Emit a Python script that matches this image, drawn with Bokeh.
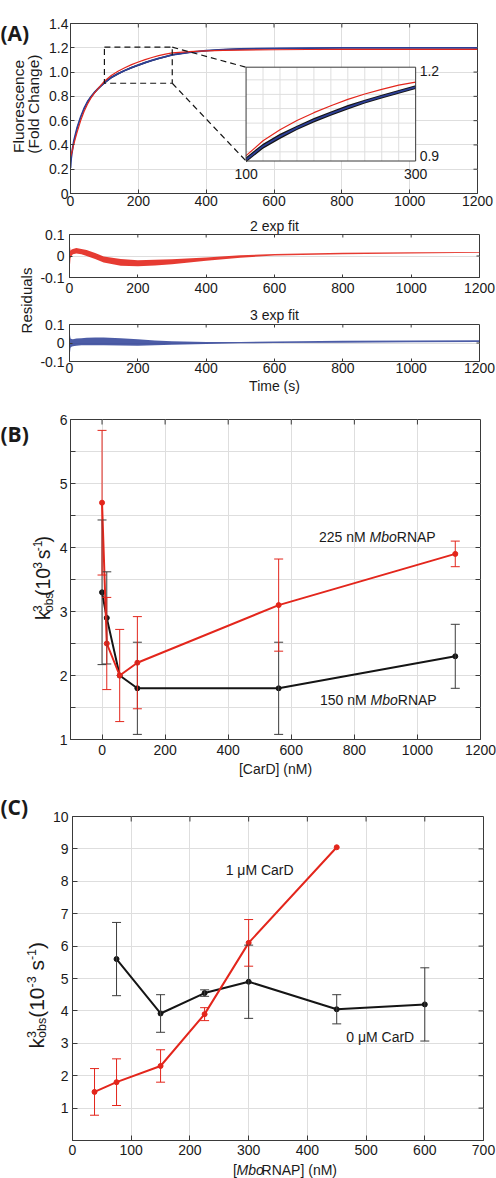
from math import pi
from bokeh.plotting import figure
from bokeh.models import (Range1d, FixedTicker, Label, ColumnDataSource, Title,
                          Whisker, TeeHead, CustomJSTickFormatter)
from bokeh.layouts import column, row
from bokeh.embed import file_html
from bokeh.resources import INLINE

# ---------------------------------------------------------------- DATA
# (A) fluorescence time course (fold change)
time_s = [0, 2, 5, 10, 15, 20, 30, 40, 50, 60, 70, 80, 90, 100, 120, 140, 160, 180, 200,
          220, 240, 260, 280, 300, 350, 400, 450, 500, 600, 700, 800, 1000, 1200]
fit_3exp = [0.21, 0.29, 0.35, 0.435, 0.49, 0.545, 0.63, 0.70, 0.755, 0.795, 0.83, 0.86, 0.887,
            0.912, 0.955, 0.986, 1.013, 1.037, 1.058, 1.078, 1.096, 1.112, 1.127, 1.142, 1.163,
            1.176, 1.185, 1.19, 1.195, 1.198, 1.2, 1.2, 1.2]
fit_2exp = [0.30, 0.32, 0.35, 0.41, 0.46, 0.51, 0.60, 0.675, 0.735, 0.785, 0.825, 0.86, 0.893,
            0.925, 0.972, 1.007, 1.036, 1.061, 1.083, 1.103, 1.12, 1.135, 1.148, 1.158, 1.168,
            1.174, 1.178, 1.181, 1.184, 1.186, 1.187, 1.187, 1.187]
data_spread = [0.02, 0.015, 0.012, 0.01, 0.01, 0.01, 0.009, 0.009, 0.009, 0.009, 0.008, 0.008,
               0.008, 0.008, 0.008, 0.008, 0.007, 0.007, 0.007, 0.007, 0.006, 0.006, 0.006,
               0.006, 0.005, 0.004, 0.004, 0.004, 0.003, 0.003, 0.003, 0.003, 0.003]
# residual envelopes (low / high edge of the noisy trace)
res_time = [0, 1, 3, 6, 10, 20, 35, 50, 75, 100, 150, 200, 250, 300, 400, 500, 600, 800, 1000, 1200]
res2_low = [-0.07, -0.05, -0.01, 0.0, 0.008, 0.012, 0.008, 0.0, -0.014, -0.03, -0.045, -0.048,
            -0.044, -0.038, -0.022, -0.008, 0.002, 0.008, 0.012, 0.015]
res2_high = [0.06, 0.05, 0.025, 0.03, 0.032, 0.037, 0.033, 0.028, 0.014, -0.002, -0.014, -0.02,
             -0.018, -0.015, -0.007, 0.004, 0.009, 0.015, 0.018, 0.019]
res3_low = [-0.1, -0.06, -0.025, -0.02, -0.018, -0.015, -0.012, -0.012, -0.012, -0.012, -0.014,
            -0.015, -0.012, -0.009, -0.005, -0.002, 0.0, 0.002, 0.004, 0.006]
res3_high = [0.08, 0.05, 0.025, 0.022, 0.02, 0.024, 0.026, 0.028, 0.03, 0.03, 0.026, 0.02, 0.014,
             0.01, 0.006, 0.006, 0.008, 0.012, 0.014, 0.015]
# inset window (zoom of the main plot)
inset_t = [100, 300]
inset_f = [0.908, 1.205]
inset_xgrid = [120, 140, 160, 180, 200, 220, 240, 260, 280]
inset_ygrid = [0.937, 0.983, 1.028, 1.074, 1.119, 1.165]

# (B) k3obs vs [CarD]
card_nM = [0, 15, 56, 112, 560, 1120]
k_150nM = [3.3, 2.9, 2.0, 1.8, 1.8, 2.3]
k_150nM_err = [1.13, 0.72, 0.0, 0.72, 0.72, 0.5]
k_225nM = [4.7, 2.5, 2.0, 2.2, 3.1, 3.9]
k_225nM_err = [1.13, 0.72, 0.72, 0.72, 0.72, 0.2]

# (C) k3obs vs [MboRNAP]
rnap_1uM = [37.5, 75, 150, 225, 300, 450]
k_1uM = [1.5, 1.8, 2.3, 3.9, 6.1, 9.05]
k_1uM_err = [0.72, 0.72, 0.5, 0.2, 0.72, 0.0]
rnap_0uM = [75, 150, 225, 300, 450, 600]
k_0uM = [5.6, 3.92, 4.55, 4.9, 4.05, 4.2]
k_0uM_err = [1.13, 0.58, 0.1, 1.13, 0.45, 1.13]

# tick values
time_ticks = [0, 200, 400, 600, 800, 1000, 1200]
fl_ticks = [0, 0.2, 0.4, 0.6, 0.8, 1.0, 1.2, 1.4]
res_ticks = [-0.1, 0, 0.1]
card_ticks = [0, 200, 400, 600, 800, 1000, 1200]
kB_ticks = [1, 2, 3, 4, 5, 6]
kB_minor = [1.5, 2.5, 3.5, 4.5, 5.5]
rnap_ticks = [0, 100, 200, 300, 400, 500, 600, 700]
kC_ticks = [1, 2, 3, 4, 5, 6, 7, 8, 9, 10]

# ---------------------------------------------------------------- STYLE
FONT = "Liberation Sans"
TXT = "#1a1a1a"
AX = "#3a3a3a"
GRID = "#dedede"
RED = "#e3261c"
BLUE = "#2d3f96"
BLK = "#151515"
EBLK = "#3c3c3c"

CW = {'k': 0.5, 'o': 0.556, 'b': 0.556, 's': 0.5, '(': 0.333, ')': 0.333, '1': 0.556,
      '0': 0.556, '3': 0.556, '-': 0.333, ' ': 0.278, '2': 0.556, '5': 0.556, 'n': 0.556,
      'M': 0.833, 'R': 0.722, 'N': 0.722, 'A': 0.667, 'P': 0.667, '[': 0.278, ']': 0.278}


def tw(s, size):
    return sum(CW.get(c, 0.556) for c in s) * size


class Panel:
    """A figure whose frame sits at given page pixels; helper converts page px to data."""

    def __init__(self, left, top, width, height, frame, xr, yr, axes=True):
        self.frame = frame
        self.xr, self.yr = xr, yr
        fl, ft, fr, fb = frame
        kw = {}
        if not axes:
            kw = dict(x_axis_type=None, y_axis_type=None)
        self.p = figure(width=width, height=height, x_range=Range1d(*xr), y_range=Range1d(*yr),
                        output_backend="svg", toolbar_location=None, title=None,
                        min_border_left=fl - left, min_border_right=left + width - fr,
                        min_border_top=ft - top, min_border_bottom=top + height - fb, **kw)
        self.p.background_fill_color = "white"
        self.p.border_fill_color = "white"
        self.p.outline_line_color = AX if axes else None

    def dx(self, X):
        fl, ft, fr, fb = self.frame
        return self.xr[0] + (X - fl) / (fr - fl) * (self.xr[1] - self.xr[0])

    def dy(self, Y):
        fl, ft, fr, fb = self.frame
        return self.yr[1] - (Y - ft) / (fb - ft) * (self.yr[1] - self.yr[0])

    def label(self, X, Y, text, size=14, align="center", baseline="middle", angle=0.0,
              style="normal", font=FONT, color=TXT):
        self.p.add_layout(Label(x=self.dx(X), y=self.dy(Y), text=text,
                                text_font_size=f"{size}px", text_align=align,
                                text_baseline=baseline, angle=angle, text_font_style=style,
                                text_font=font, text_color=color))


def strip(left, top, width, height):
    return Panel(left, top, width, height, (left, top, left + width, top + height),
                 (0, width), (0, height), axes=False)


def setup_axes(P, xticks, yticks, tick_len, xfmt=None, yfmt=None, yminor=None,
               xstand=3, ystand=3, xgrid=True, ygrid=True, ygrid_ticks=None):
    p = P.p
    xt = FixedTicker(ticks=xticks)
    yt = FixedTicker(ticks=yticks, minor_ticks=yminor or [])
    p.xaxis.ticker = xt
    p.yaxis.ticker = yt
    if xfmt is not None:
        p.xaxis.formatter = xfmt
    if yfmt is not None:
        p.yaxis.formatter = yfmt
    p.xaxis.major_label_standoff = xstand
    p.yaxis.major_label_standoff = ystand
    for ax in p.axis:
        ax.major_tick_in = tick_len
        ax.major_tick_out = 0
        ax.minor_tick_out = 0
        ax.minor_tick_in = tick_len if (yminor and ax in p.yaxis) else 0
        ax.axis_line_color = AX
        ax.major_tick_line_color = AX
        ax.minor_tick_line_color = AX
        ax.major_label_text_font = FONT
        ax.major_label_text_color = TXT
        ax.major_label_text_font_size = "14px"
        ax.axis_label_text_font = FONT
        ax.axis_label_text_font_size = "14px"
        ax.axis_label_text_font_style = "normal"
        ax.axis_label_text_color = TXT
    p.xgrid.ticker = xt
    p.ygrid.ticker = FixedTicker(ticks=ygrid_ticks) if ygrid_ticks is not None else yt
    p.xgrid.grid_line_color = GRID if xgrid else None
    p.ygrid.grid_line_color = GRID if ygrid else None
    if yminor:
        p.ygrid.minor_grid_line_color = GRID
    # inward ticks on the top and right edges of the box
    fl, ft, fr, fb = P.frame
    x0, x1 = P.xr
    y0, y1 = P.yr
    Ly = tick_len * (y1 - y0) / (fb - ft)
    Lx = tick_len * (x1 - x0) / (fr - fl)
    tx = [x for x in xticks if x0 < x < x1]
    ty = [y for y in list(yticks) + list(yminor or []) if y0 < y < y1]
    p.segment(x0=tx, y0=[y1] * len(tx), x1=tx, y1=[y1 - Ly] * len(tx), line_color=AX, line_width=1)
    p.segment(x0=[x1] * len(ty), y0=ty, x1=[x1 - Lx] * len(ty), y1=ty, line_color=AX, line_width=1)


def errorbars(P, xs, ys, errs, color, head=9, width=1.0):
    xx = [x for x, e in zip(xs, errs) if e > 0]
    lo = [y - e for y, e in zip(ys, errs) if e > 0]
    hi = [y + e for y, e in zip(ys, errs) if e > 0]
    src = ColumnDataSource(dict(x=xx, lo=lo, hi=hi))
    w = Whisker(source=src, base="x", lower="lo", upper="hi", line_color=color, line_width=width,
                upper_head=TeeHead(size=head, line_color=color, line_width=width),
                lower_head=TeeHead(size=head, line_color=color, line_width=width), level="glyph")
    P.p.add_layout(w)


def k_label(P, x0, y0, M, S, sub_k=0.2):
    """Rotated k^3_obs(10^-3 s^-1); x0 = baseline column, y0 = bottom start (page px)."""
    kw = dict(align="left", baseline="middle", angle=pi / 2)
    mid = 0.32
    sup = 0.37 * M
    sub = sub_k * M
    y = y0
    P.label(x0 - mid * M, y, "k", M, **kw)
    y -= tw("k", M)
    P.label(x0 - sup - mid * S, y, "3", S, **kw)
    P.label(x0 + sub - mid * S, y, "obs", S, **kw)
    y -= tw("obs", S)
    P.label(x0 - mid * M, y, "(10", M, **kw)
    y -= tw("(10", M)
    P.label(x0 - sup - mid * S, y, "-3", S, **kw)
    y -= tw("-3", S) + tw(" ", M)
    P.label(x0 - mid * M, y, "s", M, **kw)
    y -= tw("s", M)
    P.label(x0 - sup - mid * S, y, "-1", S, **kw)
    y -= tw("-1", S)
    P.label(x0 - mid * M, y, ")", M, **kw)


def mbo_label(P, X, Y, before, after, size=14):
    x = X
    if before:
        P.label(x, Y, before, size, align="left")
        x += tw(before, size)
    P.label(x, Y, "Mbo", size, align="left", style="italic")
    x += (0.833 + 0.556 + 0.556) * size
    P.label(x, Y, after, size, align="left")


def panel_title(P, text, standoff):
    P.p.title = Title(text=text, align="center", text_font=FONT, text_font_size="14px",
                      text_font_style="normal", text_color=TXT, standoff=standoff)


def dec_fmt():
    return CustomJSTickFormatter(code="return tick == 0 ? '0' : tick.toFixed(1);")


# ---------------------------------------------------------------- (A) main
AL = strip(0, 0, 46, 212)
AL.label(0, 12, "(A)", 21, align="left", style="bold", font="Open Sans")
AL.label(18, 103.5, "Fluorescence", 15.5, angle=pi / 2)
AL.label(32.5, 100.5, "(Fold Change)", 15.5, angle=pi / 2)

A = Panel(46, 0, 450, 212, (69, 23, 477, 193), (0, 1200), (0, 1.4))
setup_axes(A, time_ticks, fl_ticks, 4, yfmt=dec_fmt(), xstand=2, ystand=2)
pa = A.p
lo_band = [f - s for f, s in zip(fit_3exp, data_spread)]
hi_band = [f + s for f, s in zip(fit_3exp, data_spread)]
pa.varea(x=time_s, y1=lo_band, y2=hi_band, fill_color=BLK)
pa.line(time_s, fit_3exp, line_color=BLUE, line_width=1.8)
pa.line(time_s, fit_2exp, line_color=RED, line_width=1.2)

# inset placement on the page (pixels) -> main data coords
ix0, ix1 = A.dx(245), A.dx(415)
iy0, iy1 = A.dy(160.5), A.dy(66.7)
sx = (inset_t[1] - inset_t[0]) / (ix1 - ix0)
sy = (inset_f[1] - inset_f[0]) / (iy1 - iy0)
pa.extra_x_ranges = {"inset": Range1d(inset_t[0] - ix0 * sx, inset_t[1] + (1200 - ix1) * sx)}
pa.extra_y_ranges = {"inset": Range1d(inset_f[0] - iy0 * sy, inset_f[1] + (1.4 - iy1) * sy)}
INS = dict(x_range_name="inset", y_range_name="inset")

pa.quad(left=inset_t[0], right=inset_t[1], bottom=inset_f[0], top=inset_f[1],
        fill_color=None, line_color=BLK, line_width=1.2, line_dash="6 4")
pa.segment(x0=[inset_t[1], inset_t[1]], y0=[inset_f[1], inset_f[0]],
           x1=[ix0, ix0], y1=[iy1, iy0], line_color=BLK, line_width=1.2, line_dash="6 4")

pa.quad(left=inset_t[0], right=inset_t[1], bottom=inset_f[0], top=inset_f[1],
        fill_color="white", line_color=None, **INS)
pa.segment(x0=inset_xgrid, y0=[inset_f[0]] * len(inset_xgrid), x1=inset_xgrid,
           y1=[inset_f[1]] * len(inset_xgrid), line_color=GRID, line_width=1, **INS)
pa.segment(x0=[inset_t[0]] * len(inset_ygrid), y0=inset_ygrid, x1=[inset_t[1]] * len(inset_ygrid),
           y1=inset_ygrid, line_color=GRID, line_width=1, **INS)
sel = [i for i, t in enumerate(time_s) if inset_t[0] <= t <= inset_t[1]]
ti = [time_s[i] for i in sel]
pa.varea(x=ti, y1=[lo_band[i] for i in sel], y2=[hi_band[i] for i in sel], fill_color=BLK, **INS)
pa.line(ti, [fit_3exp[i] for i in sel], line_color=BLUE, line_width=1.8, **INS)
pa.line(ti, [fit_2exp[i] for i in sel], line_color=RED, line_width=1.2, **INS)
pa.quad(left=inset_t[0], right=inset_t[1], bottom=inset_f[0], top=inset_f[1],
        fill_color=None, line_color=AX, line_width=1, **INS)
A.label(245, 173.5, str(inset_t[0]), 14)
A.label(415, 173.5, str(inset_t[1]), 14)
A.label(419, 70, "1.2", 14, align="left")
A.label(419, 155.5, "0.9", 14, align="left")

# ---------------------------------------------------------------- (A) residuals
RL = strip(0, 212, 36, 184)
RL.label(26, 300, "Residuals", 15, angle=pi / 2)

R1 = Panel(36, 212, 460, 87, (69, 234, 479, 277), (0, 1200), (-0.1, 0.1))
setup_axes(R1, time_ticks, res_ticks, 3, yfmt=dec_fmt(), xstand=5, ystand=5,
           xgrid=False, ygrid_ticks=[0])
R1.p.varea(x=res_time, y1=res2_low, y2=res2_high, fill_color=RED, fill_alpha=0.9)
panel_title(R1, "2 exp fit", 2)

R2 = Panel(36, 299, 460, 97, (69, 324, 479, 361), (0, 1200), (-0.1, 0.1))
setup_axes(R2, time_ticks, res_ticks, 3, yfmt=dec_fmt(), xstand=1, ystand=5,
           xgrid=False, ygrid_ticks=[0])
R2.p.varea(x=res_time, y1=res3_low, y2=res3_high, fill_color=BLUE, fill_alpha=0.85)
panel_title(R2, "3 exp fit", 3)
R2.p.xaxis.axis_label = "Time (s)"
R2.p.xaxis.axis_label_standoff = 2

# ---------------------------------------------------------------- (B)
BL = strip(0, 396, 56, 386)
BL.label(0, 414, "(B)", 21, align="left", style="bold", font="Open Sans")
k_label(BL, 48.3, 638, 19.5, 12)

B = Panel(56, 396, 440, 386, (70, 419, 480, 739), (-100, 1200), (1, 6))
setup_axes(B, card_ticks, kB_ticks, 5, yminor=kB_minor, xstand=5, ystand=3)
B.p.xaxis.axis_label = "[CarD] (nM)"
B.p.xaxis.axis_label_standoff = 3
errorbars(B, card_nM, k_150nM, k_150nM_err, EBLK)
errorbars(B, card_nM, k_225nM, k_225nM_err, RED)
B.p.line(card_nM, k_150nM, line_color=BLK, line_width=2)
B.p.scatter(card_nM, k_150nM, size=5, marker="circle", fill_color=BLK, line_color=BLK)
B.p.line(card_nM, k_225nM, line_color=RED, line_width=2)
B.p.scatter(card_nM, k_225nM, size=5, marker="circle", fill_color=RED, line_color=RED)
mbo_label(B, 318.5, 536, "225 nM ", "RNAP")
mbo_label(B, 319.5, 699, "150 nM ", "RNAP")

# ---------------------------------------------------------------- (C)
CL = strip(0, 782, 49, 396)
CL.label(0, 806, "(C)", 21, align="left", style="bold", font="Open Sans")
k_label(CL, 42.5, 1048, 21, 12.5, sub_k=0.14)

C = Panel(49, 782, 447, 380, (69, 816, 483, 1140), (0, 700), (0, 10))
setup_axes(C, rnap_ticks, kC_ticks, 5, xstand=4, ystand=4)
errorbars(C, rnap_0uM, k_0uM, k_0uM_err, EBLK)
errorbars(C, rnap_1uM, k_1uM, k_1uM_err, RED)
C.p.line(rnap_0uM, k_0uM, line_color=BLK, line_width=2)
C.p.scatter(rnap_0uM, k_0uM, size=5, marker="circle", fill_color=BLK, line_color=BLK)
C.p.line(rnap_1uM, k_1uM, line_color=RED, line_width=2)
C.p.scatter(rnap_1uM, k_1uM, size=5, marker="circle", fill_color=RED, line_color=RED)
C.label(257.5, 869, "1 \u03bcM CarD", 14)
C.label(379, 1036, "0 \u03bcM CarD", 14)

CB = strip(49, 1162, 447, 16)
mbo_label(CB, 223.5, 1169.5, "[", "RNAP] (nM)")

layout = column(
    row(AL.p, A.p),
    row(RL.p, column(R1.p, R2.p)),
    row(BL.p, B.p),
    row(CL.p, column(C.p, CB.p)),
)

open("out.html", "w").write(file_html(layout, INLINE))
